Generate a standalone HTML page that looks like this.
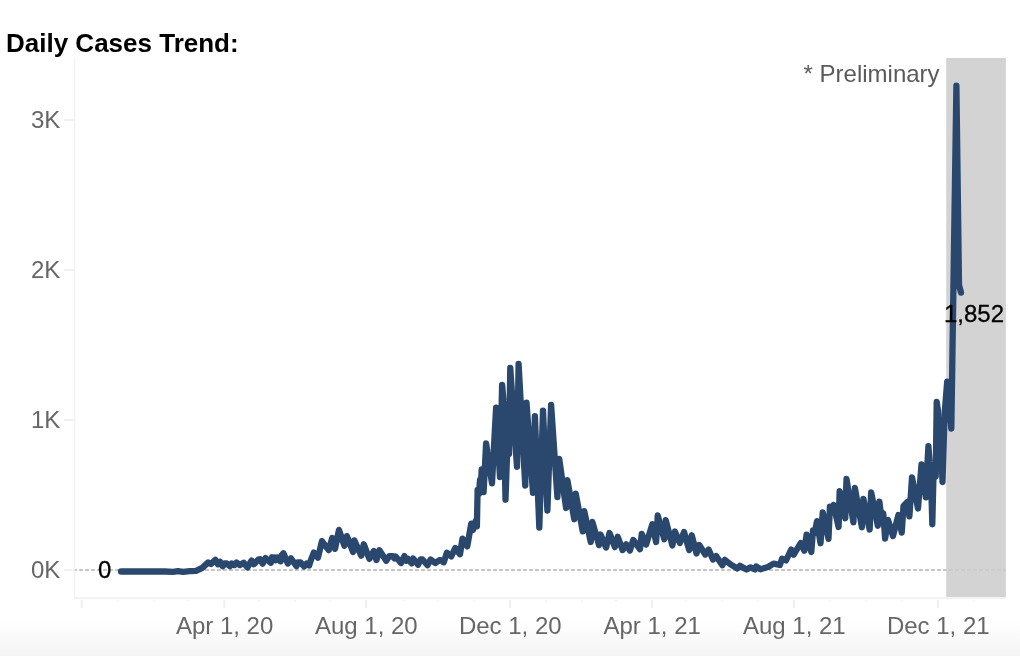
<!DOCTYPE html>
<html><head><meta charset="utf-8"><title>Daily Cases Trend</title>
<style>
html,body{margin:0;padding:0;}
body{width:1020px;height:656px;position:relative;overflow:hidden;background:#fff;font-family:"Liberation Sans",Arial,sans-serif;}
.grad{position:absolute;left:0;top:622px;width:1020px;height:34px;background:linear-gradient(to bottom,#ffffff,#f4f4f4);}
.title{position:absolute;left:6px;top:28px;font-size:26px;font-weight:bold;color:#000;white-space:nowrap;line-height:30px;}
svg{position:absolute;left:0;top:0;}
.yl{position:absolute;left:0;width:60.3px;text-align:right;font-size:24px;line-height:28px;color:#666;}
.xl{position:absolute;top:612px;width:120px;text-align:center;font-size:24px;line-height:28px;color:#666;white-space:nowrap;}
.mk{position:absolute;font-size:24px;line-height:28px;color:#000;white-space:nowrap;-webkit-text-stroke:0.3px #000;}
.pre{position:absolute;right:80.4px;top:60px;font-size:24px;line-height:28px;color:#5a5a5a;white-space:nowrap;}
</style></head><body>
<div class="grad"></div>
<div class="title">Daily Cases Trend:</div>
<svg width="1020" height="656" viewBox="0 0 1020 656">
<line x1="74.6" y1="58" x2="74.6" y2="599" stroke="#f2f2f2" stroke-width="1.3"/>
<line x1="74" y1="598.1" x2="1005.9" y2="598.1" stroke="#f0f0f0" stroke-width="1.6"/>
<line x1="81.8" y1="600" x2="81.8" y2="608" stroke="#f0f0f0" stroke-width="2"/>
<line x1="224.3" y1="600" x2="224.3" y2="608" stroke="#f0f0f0" stroke-width="2"/>
<line x1="366.0" y1="600" x2="366.0" y2="608" stroke="#f0f0f0" stroke-width="2"/>
<line x1="510.0" y1="600" x2="510.0" y2="608" stroke="#f0f0f0" stroke-width="2"/>
<line x1="651.9" y1="600" x2="651.9" y2="608" stroke="#f0f0f0" stroke-width="2"/>
<line x1="794.0" y1="600" x2="794.0" y2="608" stroke="#f0f0f0" stroke-width="2"/>
<line x1="938.0" y1="600" x2="938.0" y2="608" stroke="#f0f0f0" stroke-width="2"/>
<line x1="118.0" y1="600" x2="118.0" y2="601.6" stroke="#f0f0f0" stroke-width="1.6"/>
<line x1="154.0" y1="600" x2="154.0" y2="601.6" stroke="#f0f0f0" stroke-width="1.6"/>
<line x1="188.0" y1="600" x2="188.0" y2="601.6" stroke="#f0f0f0" stroke-width="1.6"/>
<line x1="259.1" y1="600" x2="259.1" y2="601.6" stroke="#f0f0f0" stroke-width="1.6"/>
<line x1="295.1" y1="600" x2="295.1" y2="601.6" stroke="#f0f0f0" stroke-width="1.6"/>
<line x1="330.0" y1="600" x2="330.0" y2="601.6" stroke="#f0f0f0" stroke-width="1.6"/>
<line x1="403.9" y1="600" x2="403.9" y2="601.6" stroke="#f0f0f0" stroke-width="1.6"/>
<line x1="438.0" y1="600" x2="438.0" y2="601.6" stroke="#f0f0f0" stroke-width="1.6"/>
<line x1="474.0" y1="600" x2="474.0" y2="601.6" stroke="#f0f0f0" stroke-width="1.6"/>
<line x1="546.4" y1="600" x2="546.4" y2="601.6" stroke="#f0f0f0" stroke-width="1.6"/>
<line x1="582.2" y1="600" x2="582.2" y2="601.6" stroke="#f0f0f0" stroke-width="1.6"/>
<line x1="616.0" y1="600" x2="616.0" y2="601.6" stroke="#f0f0f0" stroke-width="1.6"/>
<line x1="686.0" y1="600" x2="686.0" y2="601.6" stroke="#f0f0f0" stroke-width="1.6"/>
<line x1="721.9" y1="600" x2="721.9" y2="601.6" stroke="#f0f0f0" stroke-width="1.6"/>
<line x1="758.0" y1="600" x2="758.0" y2="601.6" stroke="#f0f0f0" stroke-width="1.6"/>
<line x1="829.9" y1="600" x2="829.9" y2="601.6" stroke="#f0f0f0" stroke-width="1.6"/>
<line x1="866.0" y1="600" x2="866.0" y2="601.6" stroke="#f0f0f0" stroke-width="1.6"/>
<line x1="902.0" y1="600" x2="902.0" y2="601.6" stroke="#f0f0f0" stroke-width="1.6"/>
<line x1="974.0" y1="600" x2="974.0" y2="601.6" stroke="#f0f0f0" stroke-width="1.6"/>
<line x1="64" y1="120" x2="74.5" y2="120" stroke="#f0f0f0" stroke-width="2"/>
<line x1="64" y1="270" x2="74.5" y2="270" stroke="#f0f0f0" stroke-width="2"/>
<line x1="64" y1="420" x2="74.5" y2="420" stroke="#f0f0f0" stroke-width="2"/>
<line x1="64" y1="570" x2="74.5" y2="570" stroke="#f0f0f0" stroke-width="2"/>

<line x1="75" y1="570" x2="1005.9" y2="570" stroke="#c6c6c6" stroke-width="2" stroke-dasharray="3.8,2.2" stroke-dashoffset="1.9"/>
<rect x="946.2" y="58" width="59.7" height="539" fill="#cbcbcb" fill-opacity="0.85"/>
<polyline fill="none" stroke="#2a486e" stroke-width="6.3" stroke-linejoin="round" stroke-linecap="round" points="121,571.5 165,571.5 173,571.8 178,571.2 183,571.8 190,571.2 196,570.9 202.3,567.9 208.2,562.4 211,564 215.4,559.9 218,564.3 220.2,561.8 222.7,566.3 224.9,563.5 226.7,563.3 229.9,566.2 231.8,563.5 234.3,565.1 236.5,562.6 239.9,565.1 243.7,562.7 247.4,567.4 251.5,560.5 253.9,564.2 258.7,559.3 260.2,559.2 262.7,563.6 265.5,558 268.4,560.8 270.8,562.7 272,557.3 273.2,560.3 274.4,557.4 275.6,560.3 277,557.4 278.3,557.6 279.6,557.8 280.6,561.4 281.6,555.5 283.4,553.25 287.8,563.6 290.9,558.3 296.5,566.1 297.7,562.3 300.5,562.5 304.1,566.4 306.6,563.6 309.1,565.5 311,559.8 313.8,552.6 318,557.6 321.9,541.1 328.75,550.1 332.25,538 335,548.9 339,529.9 344.4,545.75 346.9,536.1 353.1,552 354.4,540.5 361.25,555.75 363.75,544.25 369.4,558.9 373.75,551.1 376.5,560.1 379.4,550.25 386.25,560.75 389.4,556.1 392.5,556.2 394.3,558.3 395.6,556.5 401,563 404.4,556.1 406.2,560.8 407.6,558.6 411.6,563.3 413.1,558.6 418.1,564.75 420.6,559.5 422.5,559.5 427.5,565.1 430.6,559.5 435.25,563 440,559.9 443.75,562.25 446.9,552.75 451.25,556.4 455.25,548 460,554.25 462.5,538.6 467.25,546.4 471.25,523.6 473,530 475.6,521 476.9,526.4 477.6,490 479,494 480,480 481,483 481.7,469.4 483.6,492.1 486.1,443.5 492,483.4 496.1,407.75 500,477 502.1,384.9 503.6,402 505.5,499.6 507.5,442 509,454 510.25,368 517,466.75 518.6,364 525.25,485.5 526.5,402.75 533,492.75 534.9,416.1 539.3,527.6 543,410.75 547.4,510.5 551.1,404.9 557.4,497 559.25,459 566.1,508 567.4,480.25 574.25,519.25 575.75,493.6 582.75,531.4 584.25,511.1 590.75,542 592.4,522 599,545.1 600.5,534.5 606.1,547.6 609.5,533 614.9,547 617.75,536.75 622.6,550.1 626.1,544.25 629.9,550.5 633.25,539.9 639.9,549.25 641.75,534 646.1,544.5 652.4,524.25 656.1,542 657.75,515.5 664.25,539.25 665.75,520.25 672.4,545.5 674.9,531.5 679.9,543 684,532 689.25,550.1 691.75,535.25 696.5,553.5 699.25,544.9 705.25,554.5 708.6,549.5 713,559.5 716.1,556.1 722.4,565.1 724.9,559.9 730.5,564.4 737.4,568.5 739.9,565.75 746.5,569.5 750.5,567.4 754.9,569.5 756.1,566.5 760.5,569.25 768,567 773.6,563.6 779.9,565 782,558.7 786,560.5 791.2,549.5 793.7,554.7 800.7,543 804.3,550.7 806.6,534.6 811.3,552 813,530.4 814.6,533 817,521.1 820.5,543.2 822.75,512.4 828.5,538.8 829.9,506.75 831.6,511 833.6,504.9 838.6,527 839.65,491.1 845.3,518.25 846.5,479 853.4,522.25 854.9,488 861.9,527.25 863.4,499 869.65,529.5 871.15,492.4 877.8,525.75 879.4,501.75 880.6,511.5 883.3,513.5 885.1,538.5 888,519.9 893,536 898.4,515 901.75,532.6 903.5,506 907.4,502 909.4,516.4 912,477.4 918,508.5 921.5,464.4 925.9,497.3 927.2,468 928.4,446.2 929.6,462 930.9,474 932.3,524.25 933.4,479 934.6,474 935.7,476.5 936.7,402 937.9,410 939.1,440 940.3,450 941.4,453 942.5,482 943.6,446 944.6,414 945.8,399 947.2,381.6 948.3,404 949.4,412 950.4,418 951.3,428.5 952.1,378 952.4,356 956.4,85.75 959,285 961,292.6"/>
</svg>
<div class="yl" style="top:106px">3K</div>
<div class="yl" style="top:256px">2K</div>
<div class="yl" style="top:406px">1K</div>
<div class="yl" style="top:556px">0K</div>

<div class="xl" style="left:164.6px">Apr 1, 20</div>
<div class="xl" style="left:306.3px">Aug 1, 20</div>
<div class="xl" style="left:450.3px">Dec 1, 20</div>
<div class="xl" style="left:592.2px">Apr 1, 21</div>
<div class="xl" style="left:734.3px">Aug 1, 21</div>
<div class="xl" style="left:878.3px">Dec 1, 21</div>

<div class="mk" style="left:98px;top:556.3px;">0</div>
<div class="mk" style="left:944px;top:300px;">1,852</div>
<div class="pre">* Preliminary</div>
</body></html>
